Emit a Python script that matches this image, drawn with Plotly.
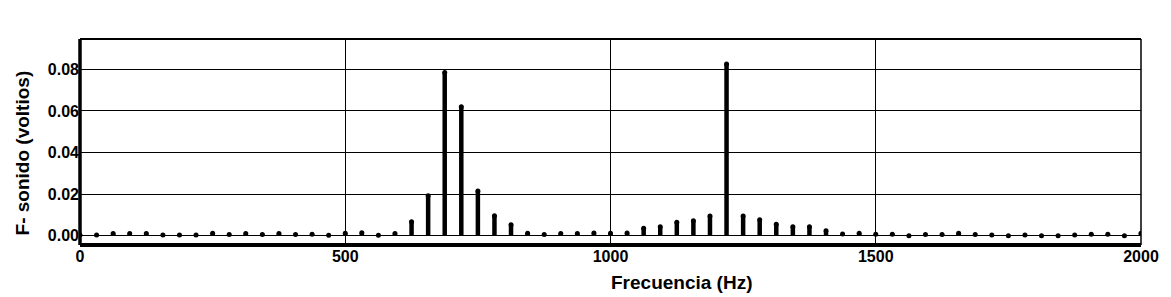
import plotly.graph_objects as go

frecuencia_hz = [
    0, 31.25, 62.5, 93.75, 125, 156.25, 187.5, 218.75, 250, 281.25,
    312.5, 343.75, 375, 406.25, 437.5, 468.75, 500, 531.25, 562.5, 593.75,
    625, 656.25, 687.5, 718.75, 750, 781.25, 812.5, 843.75, 875, 906.25,
    937.5, 968.75, 1000, 1031.25, 1062.5, 1093.75, 1125, 1156.25, 1187.5, 1218.75,
    1250, 1281.25, 1312.5, 1343.75, 1375, 1406.25, 1437.5, 1468.75, 1500, 1531.25,
    1562.5, 1593.75, 1625, 1656.25, 1687.5, 1718.75, 1750, 1781.25, 1812.5, 1843.75,
    1875, 1906.25, 1937.5, 1968.75, 2000,
]
amplitud_v = [
    0.0003, 0.0003, 0.0010, 0.0010, 0.0010, 0.0003, 0.0003, 0.0003, 0.0012, 0.0005,
    0.0010, 0.0005, 0.0010, 0.0005, 0.0007, 0.0002, 0.0012, 0.0014, 0.0002, 0.0010,
    0.0067, 0.0192, 0.0785, 0.0620, 0.0215, 0.0096, 0.0052, 0.0012, 0.0005, 0.0010,
    0.0010, 0.0013, 0.0012, 0.0013, 0.0035, 0.0043, 0.0064, 0.0072, 0.0095, 0.0826,
    0.0095, 0.0076, 0.0055, 0.0043, 0.0043, 0.0023, 0.0008, 0.0012, 0.0007, 0.0007,
    0.0000, 0.0005, 0.0005, 0.0012, 0.0005, 0.0003, 0.0000, 0.0003, 0.0000, 0.0000,
    0.0003, 0.0007, 0.0007, 0.0000, 0.0012,
]
y_ticks = [0.00, 0.02, 0.04, 0.06, 0.08]
y_tick_text = ["0.00", "0.02", "0.04", "0.06", "0.08"]
x_ticks = [0, 500, 1000, 1500, 2000]
x_tick_text = ["0", "500", "1000", "1500", "2000"]

# stems built from the data arrays
sx, sy = [], []
for f, v in zip(frecuencia_hz, amplitud_v):
    sx += [f, f, None]
    sy += [0, v, None]

fig = go.Figure()
fig.add_trace(go.Scatter(x=sx, y=sy, mode="lines",
                         line=dict(color="black", width=4.5),
                         hoverinfo="skip", showlegend=False))
fig.add_trace(go.Scatter(x=frecuencia_hz, y=amplitud_v, mode="markers",
                         marker=dict(color="black", size=5, symbol="circle"),
                         showlegend=False))

font_bold = "Liberation Sans"
fig.update_layout(
    width=1171, height=297,
    margin=dict(l=80, r=21, t=39, b=52, pad=0),
    paper_bgcolor="white", plot_bgcolor="white",
    font=dict(family=font_bold, color="black"),
    xaxis=dict(range=[0, 2000], tickvals=x_ticks, ticktext=x_tick_text,
               showgrid=True, gridcolor="black", gridwidth=1,
               zeroline=False, showline=False, ticks="",
               tickfont=dict(size=16, family=font_bold, weight="bold"),
               fixedrange=True),
    yaxis=dict(range=[-0.0045, 0.0946], tickvals=y_ticks, ticktext=y_tick_text,
               showgrid=True, gridcolor="black", gridwidth=1,
               zeroline=False, showline=False, ticks="",
               tickfont=dict(size=16, family=font_bold, weight="bold"),
               fixedrange=True),
    shapes=[
        dict(type="line", xref="paper", yref="paper", x0=0, x1=1, y0=1, y1=1,
             line=dict(color="black", width=2)),
        dict(type="line", xref="paper", yref="paper", x0=1, x1=1, y0=0, y1=1,
             line=dict(color="black", width=1.5)),
        dict(type="line", xref="paper", yref="paper", x0=0, x1=0, y0=0, y1=1,
             line=dict(color="black", width=3.5)),
        dict(type="line", xref="paper", yref="paper", x0=0, x1=1, y0=0, y1=0,
             line=dict(color="black", width=4)),
    ],
    annotations=[
        dict(text="<b>Frecuencia (Hz)</b>", xref="paper", yref="paper",
             x=0.567, y=-0.245, xanchor="center", yanchor="bottom", showarrow=False,
             font=dict(size=19, family=font_bold)),
        dict(text="<b>F- sonido (voltios)</b>", xref="paper", yref="paper",
             x=-0.054, y=0.448, xanchor="center", yanchor="middle", showarrow=False,
             textangle=-90, font=dict(size=19, family=font_bold)),
    ],
)

fig.write_html("out.html")
